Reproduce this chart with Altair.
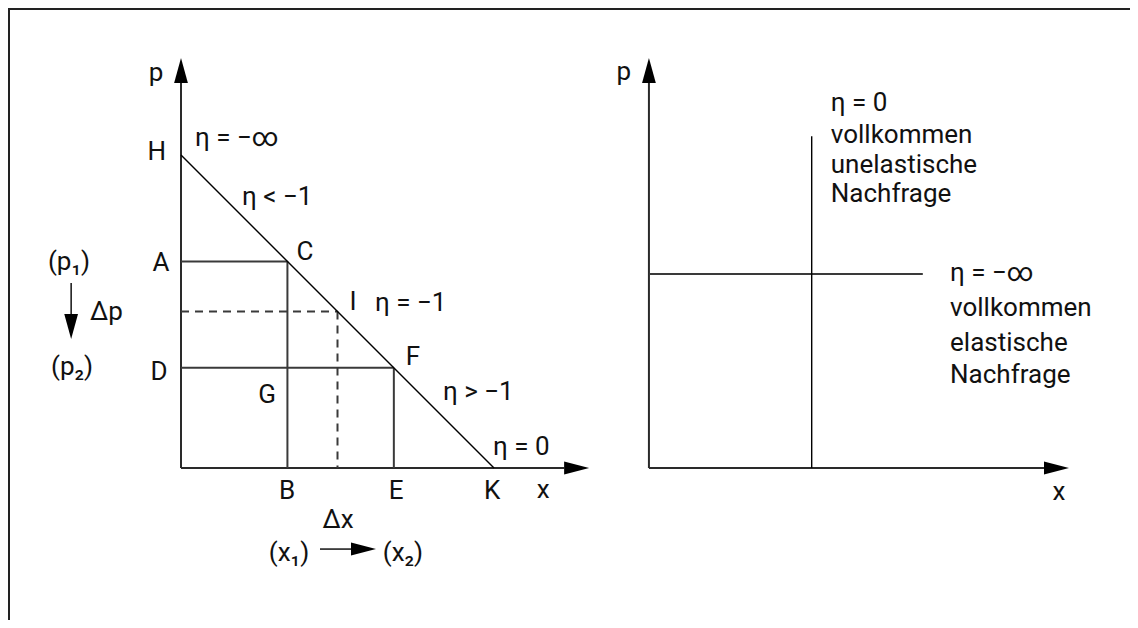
import altair as alt
import pandas as pd

# ---------------- layout (pixels) ----------------
W, HGT = 1122, 612           # whole drawing area
U = 31.3                     # pixels per diagram unit
ORIGIN_PX = (173, 460)       # left panel origin inside the drawing area
FONT = "Roboto"
FS = 26

# ---------------- left panel: linear demand curve ----------------
H_P = 10.0                   # price intercept H
K_X = 10.0                   # quantity intercept K
C_X, C_P = 3.4, 6.6          # point C  (x1, p1)
F_X, F_P = 6.8, 3.2          # point F  (x2, p2)
I_X, I_P = 5.0, 5.0          # point I  (eta = -1)
L_TIP_X, L_TIP_Y = 13.04, 13.1
DP_X, DP_FROM, DP_TIP = -3.51, 5.91, 4.12      # arrow  (p1) -> (p2)
DX_Y, DX_FROM, DX_TIP = -2.59, 4.44, 6.23      # arrow  (x1) -> (x2)

# ---------------- right panel: extreme cases ----------------
R_OFF = 14.95                # horizontal offset of right panel origin
INEL_X, INEL_TOP = 5.2, 10.6 # vertical demand (eta = 0)
EL_P, EL_RIGHT = 6.2, 8.75   # horizontal demand (eta = -inf)
R_TIP_X, R_TIP_Y = 13.42, 13.1

HEAD = 12.5 / U              # half arrow-head length in units

# ---------------- line segments ----------------
seg_x1 = [0, 0, 0, 0, C_X, 0, F_X, 0, I_X, DP_X, DX_FROM,
          R_OFF, R_OFF, R_OFF + INEL_X, R_OFF]
seg_y1 = [0, 0, H_P, C_P, C_P, F_P, F_P, I_P, I_P, DP_FROM, DX_Y,
          0, 0, 0, EL_P]
seg_x2 = [0, L_TIP_X - 2 * HEAD, K_X, C_X, C_X, F_X, F_X, I_X, I_X, DP_X, DX_TIP - 2 * HEAD,
          R_OFF, R_OFF + R_TIP_X - 2 * HEAD, R_OFF + INEL_X, R_OFF + EL_RIGHT]
seg_y2 = [L_TIP_Y - 2 * HEAD, 0, 0, C_P, 0, F_P, 0, I_P, 0, DP_TIP + 2 * HEAD, DX_Y,
          R_TIP_Y - 2 * HEAD, 0, INEL_TOP, EL_P]
seg_kind = ["axis", "axis", "curve", "box", "box", "box", "box", "dash", "dash", "curve", "curve",
            "axis", "axis", "curve", "box"]

# ---------------- arrow heads (tips) ----------------
tip_x = [0, L_TIP_X, DP_X, DX_TIP, R_OFF, R_OFF + R_TIP_X]
tip_y = [L_TIP_Y, 0, DP_TIP, DX_Y, R_TIP_Y, 0]
tip_dir = ["up", "right", "down", "right", "up", "right"]

# ---------------- labels ----------------
lab_text = ["p", "H", "η = −∞", "η < −1", "A", "C", "I", "η = −1", "F", "D", "G",
            "η > −1", "η = 0", "B", "E", "K", "x", "Δx", "(x₁)", "(x₂)",
            "(p₁)", "Δp", "(p₂)",
            "p", "η = 0", "vollkommen", "unelastische", "Nachfrage",
            "η = −∞", "vollkommen", "elastische", "Nachfrage", "x"]
lab_x = [-0.80, -0.77, 0.45, 1.95, -0.64, 3.96, 5.50, 6.20, 7.41, -0.70, 2.75,
         8.37, 9.97, 3.39, 6.87, 9.94, 11.57, 5.02, 3.45, 7.09,
         -3.58, -2.91, -3.48,
         R_OFF - 0.80, R_OFF + 5.81, R_OFF + 5.81, R_OFF + 5.81, R_OFF + 5.81,
         R_OFF + 9.62, R_OFF + 9.62, R_OFF + 9.62, R_OFF + 9.62, R_OFF + 13.10]
lab_y = [12.62, 10.10, 10.54, 8.66, 6.55, 6.90, 5.30, 5.27, 3.55, 3.07, 2.33,
         2.43, 0.67, -0.73, -0.73, -0.73, -0.70, -1.66, -2.72, -2.72,
         6.58, 4.98, 3.23,
         12.65, 11.66, 10.64, 9.68, 8.75,
         6.23, 5.11, 3.99, 2.97, -0.77]
lab_align = ["center", "center", "left", "left", "center", "center", "center", "left", "center",
             "center", "center", "left", "left", "center", "center", "center", "center",
             "center", "center", "center", "center", "left", "center",
             "center", "left", "left", "left", "left", "left", "left", "left", "left", "center"]

# ---------------- scales ----------------
x_dom = [-ORIGIN_PX[0] / U, (W - ORIGIN_PX[0]) / U]
y_dom = [-(HGT - ORIGIN_PX[1]) / U, ORIGIN_PX[1] / U]
xs = alt.Scale(domain=x_dom, range=[0, W], nice=False, zero=False)
ys = alt.Scale(domain=y_dom, range=[HGT, 0], nice=False, zero=False)

segs = pd.DataFrame({"x": seg_x1, "y": seg_y1, "x2": seg_x2, "y2": seg_y2, "kind": seg_kind})

# arrow-head centres: tip moved back by half the head length
shift = {"up": (0, -HEAD), "down": (0, HEAD), "right": (-HEAD, 0)}
heads = pd.DataFrame({
    "x": [tx + shift[d][0] for tx, d in zip(tip_x, tip_dir)],
    "y": [ty + shift[d][1] for ty, d in zip(tip_y, tip_dir)],
    "dir": tip_dir,
})
labels = pd.DataFrame({"t": lab_text, "x": lab_x, "y": lab_y, "a": lab_align})


def seg_layer(kind, width, color, dash=None):
    kw = dict(strokeWidth=width, color=color)
    if dash:
        kw["strokeDash"] = dash
    return alt.Chart(segs).transform_filter(alt.datum.kind == kind).mark_rule(**kw).encode(
        x=alt.X("x:Q", scale=xs, axis=None),
        y=alt.Y("y:Q", scale=ys, axis=None),
        x2="x2:Q", y2="y2:Q",
    )


SHAPES = {
    "up": "M0,-1L0.55,1L-0.55,1Z",
    "down": "M0,1L0.55,-1L-0.55,-1Z",
    "right": "M1,0L-1,0.52L-1,-0.52Z",
}


def head_layer(d):
    return alt.Chart(heads).transform_filter(alt.datum.dir == d).mark_point(
        shape=SHAPES[d], filled=True, color="#000", opacity=1, size=625, strokeWidth=0
    ).encode(x=alt.X("x:Q", scale=xs, axis=None), y=alt.Y("y:Q", scale=ys, axis=None))


def text_layer(a):
    return alt.Chart(labels).transform_filter(alt.datum.a == a).mark_text(
        align=a, baseline="middle", font=FONT, fontSize=FS, color="#111"
    ).encode(x=alt.X("x:Q", scale=xs, axis=None), y=alt.Y("y:Q", scale=ys, axis=None), text="t:N")


frame_top = alt.Chart(segs).mark_rule(color="#222", strokeWidth=2).encode(
    x=alt.value(0), x2=alt.value(W), y=alt.value(1))
frame_left = alt.Chart(segs).mark_rule(color="#222", strokeWidth=2).encode(
    x=alt.value(1), y=alt.value(0), y2=alt.value(HGT))

chart = alt.layer(
    frame_top, frame_left,
    seg_layer("axis", 2, "#2a2a2a"),
    seg_layer("box", 2, "#3a3a3a"),
    seg_layer("dash", 2, "#3a3a3a", [8, 6]),
    seg_layer("curve", 1.4, "#000"),
    head_layer("up"), head_layer("down"), head_layer("right"),
    text_layer("center"), text_layer("left"),
).properties(
    width=W, height=HGT, padding=0, autosize=alt.AutoSizeParams(type="none"),
    background="white",
).configure_view(stroke=None)

chart.save("out.html", embed_options={"renderer": "svg", "actions": False})
